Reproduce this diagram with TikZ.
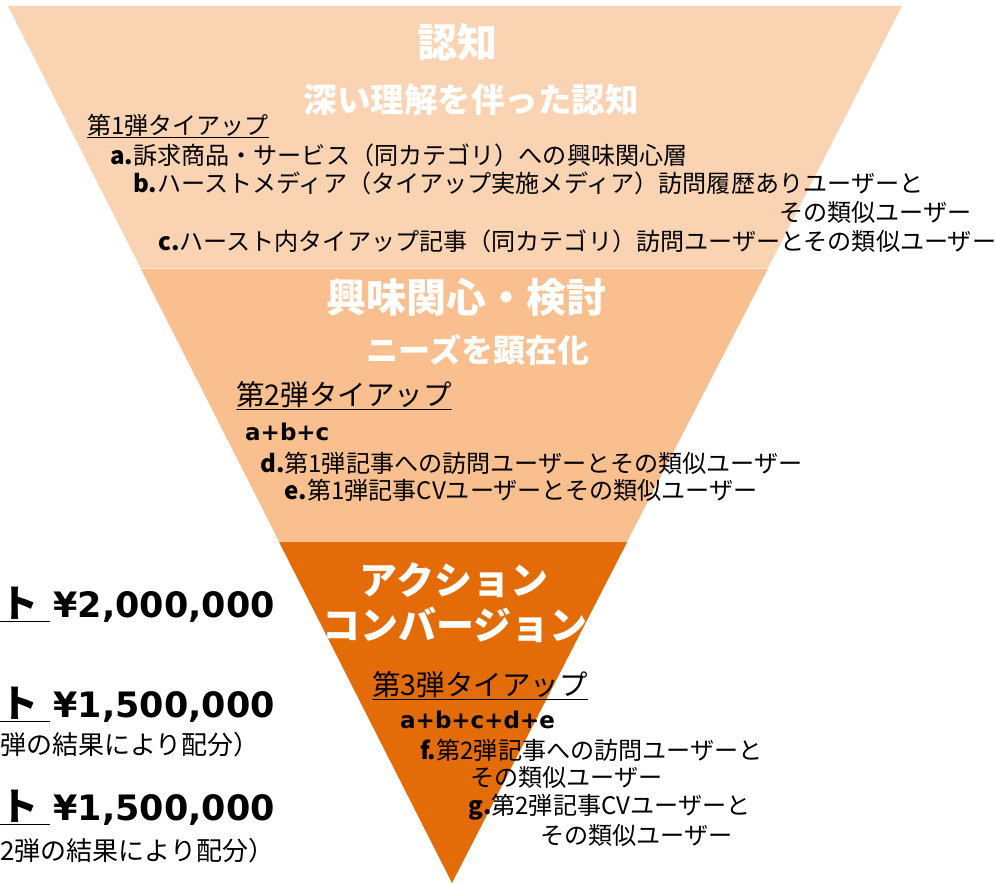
\documentclass[tikz,border=0pt]{standalone}
\usepackage{fontspec}
\setmainfont{Noto Sans CJK JP}
\newfontfamily\jp{Noto Sans CJK JP}
\newfontfamily\lat{DejaVu Sans}
\definecolor{bandA}{HTML}{FAD3B2}
\definecolor{bandB}{HTML}{F9BF8F}
\definecolor{bandC}{HTML}{E36C09}
\newcommand{\fs}[1]{\fontsize{#1}{#1}\selectfont}
\newcommand{\lb}[1]{{\lat\bfseries #1}}
\tikzset{
  title/.style={text=white, font=\jp\bfseries\fs{#1}, inner sep=0pt, anchor=center},
  body/.style={text=black, font=\jp\fs{#1}, inner sep=0pt, anchor=west},
  bodyE/.style={text=black, font=\jp\fs{#1}, inner sep=0pt, anchor=east},
  money/.style={text=black, font=\jp\bfseries\fs{#1}, inner sep=0pt, anchor=west},
}
\begin{document}
\begin{tikzpicture}[x=1pt,y=-1pt]
\useasboundingbox (0,0) rectangle (996,883);
% funnel bands
\fill[bandA] (8,6) -- (902,6) -- (768,268) -- (140.6,268) -- cycle;
\fill[bandB] (140.6,268.5) -- (768,268.5) -- (627.5,541) -- (278.8,541) -- cycle;
\fill[bandC] (278.8,541.5) -- (627.5,541.5) -- (452,883) -- cycle;

% band 1
\node[title=40] (t1) at (457,42) {認知};
\node[title=33.5] (t1b) at (471,100) {深い理解を伴った認知};
\node[body=24] (h1) at (87,126) {\underline{第1弾タイアップ}};
\node[body=24.1] (la) at (110,155) {\textbf{a.}訴求商品・サービス（同カテゴリ）への興味関心層};
\node[body=24.1] (lb) at (133,183) {\textbf{b.}ハーストメディア（タイアップ実施メディア）訪問履歴ありユーザーと};
\node[bodyE=24.1] (lb2) at (972,212) {その類似ユーザー};
\node[body=24.1] (lc) at (158,241) {\textbf{c.}ハースト内タイアップ記事（同カテゴリ）訪問ユーザーとその類似ユーザー};

% band 2
\node[title=40] (t2) at (466,297) {興味関心・検討};
\node[title=32] (t2b) at (478,350) {ニーズを顕在化};
\node[body=28.5] (h2) at (236,396) {\underline{第2弾タイアップ}};
\node[body=23] (abc) at (245,432) {\lb{a+b+c}};
\node[body=24.1] (ld) at (260,463) {\textbf{d.}第1弾記事への訪問ユーザーとその類似ユーザー};
\node[body=24.1] (le) at (284,490) {\textbf{e.}第1弾記事CVユーザーとその類似ユーザー};

% band 3
\node[title=38] (t3) at (454,580) {アクション};
\node[title=38] (t3b) at (455,625) {コンバージョン};
\node[body=28.5] (h3) at (372,686) {\underline{第3弾タイアップ}};
\node[body=23] (abcde) at (400,720) {\lb{a+b+c+d+e}};
\node[body=24.1] (lf) at (420,750) {\textbf{f.}第2弾記事への訪問ユーザーと};
\node[body=24.1] (lf2) at (470,777) {その類似ユーザー};
\node[body=24.1] (lg) at (468,807) {\textbf{g.}第2弾記事CVユーザーと};
\node[body=24.1] (lg2) at (540,835) {その類似ユーザー};

% left cost texts
\node[money=38] (m1) at (0,605) {\underline{ト\hspace{0.3em}}\hspace{0.1em}{\lat\fs{35}¥2,000,000}};
\node[money=38] (m2) at (0,705) {\underline{ト\hspace{0.3em}}\hspace{0.1em}{\lat\fs{35}¥1,500,000}};
\node[body=26] (n2) at (0,745) {弾の結果により配分）};
\node[money=38] (m3) at (0,808) {\underline{ト\hspace{0.3em}}\hspace{0.1em}{\lat\fs{35}¥1,500,000}};
\node[body=26] (n3) at (0,851) {2弾の結果により配分）};
\end{tikzpicture}
\end{document}
